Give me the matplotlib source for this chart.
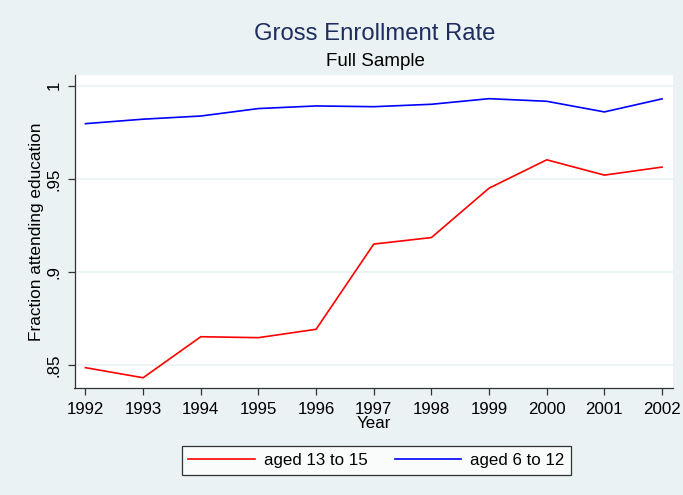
import matplotlib
matplotlib.use("Agg")
import matplotlib.pyplot as plt

years = [1992, 1993, 1994, 1995, 1996, 1997, 1998, 1999, 2000, 2001, 2002]
aged_13_15 = [0.8487, 0.8433, 0.8653, 0.8648, 0.8693, 0.9150, 0.9185, 0.9450, 0.9602, 0.9520, 0.9563]
aged_6_12 = [0.9796, 0.9820, 0.9837, 0.9877, 0.9891, 0.9887, 0.9900, 0.9930, 0.9916, 0.9859, 0.9929]
yticks = [0.85, 0.9, 0.95, 1.0]
ytick_labels = [".85", ".9", ".95", "1"]

plt.rcParams['font.family'] = ['Liberation Sans', 'DejaVu Sans']
bg = (234/255, 242/255, 243/255)

fig = plt.figure(figsize=(6.83, 4.95), dpi=100, facecolor=bg)
ax = fig.add_axes([74.5/683, (495-388)/495, 598.5/683, 313/495])
ax.set_facecolor('white')

l1, = ax.plot(years, aged_13_15, color=(1, 0, 0), lw=1.2, label="aged 13 to 15")
l2, = ax.plot(years, aged_6_12, color=(0, 0, 1), lw=1.2, label="aged 6 to 12")

ax.set_xlim(1991.81, 2002.19)
ax.set_ylim(0.8378, 1.0057)
ax.set_xticks(years)
ax.set_xticklabels([str(y) for y in years], fontsize=12.2)
ax.set_yticks(yticks)
ax.set_yticklabels(ytick_labels, fontsize=12.2, rotation=90, va='center')
ax.grid(axis='y', color=bg, lw=1.2)
ax.set_axisbelow(True)
for s in ['top', 'right']:
    ax.spines[s].set_visible(False)
for s in ['left', 'bottom']:
    ax.spines[s].set_color('#333333')
    ax.spines[s].set_linewidth(0.9)
ax.tick_params(axis='x', direction='out', length=5, width=0.9, color='#333333', pad=5)
ax.tick_params(axis='y', direction='out', length=5, width=0.9, color='#333333', pad=4)

ax.set_xlabel("Year", fontsize=12.2, labelpad=-1)
ax.set_ylabel("Fraction attending education", fontsize=12.4, labelpad=2)

fig.text(375/683, 1 - 34/495, "Gross Enrollment Rate", ha='center', va='center',
         fontsize=17.2, color=(30/255, 45/255, 95/255))
fig.text(375/683, 1 - 61/495, "Full Sample", ha='center', va='center', fontsize=13.5, color='black')

leg = fig.legend(handles=[l1, l2], loc='center', bbox_to_anchor=(376.5/683, 1 - 460.5/495),
                 ncol=2, fontsize=12.2, frameon=True, fancybox=False, edgecolor='black',
                 handlelength=3.9, columnspacing=1.6, borderpad=0.4, handletextpad=0.55)
leg.get_frame().set_linewidth(0.9)

fig.savefig("out.png", dpi=100, facecolor=bg)
